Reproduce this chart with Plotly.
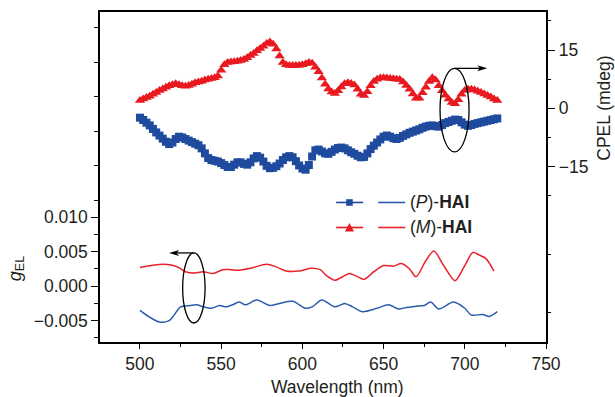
import plotly.graph_objects as go

# ---------------- data ----------------
cpel_wl = list(range(500, 722, 2))
cpel_P = [-2.4, -3.0, -3.7, -4.4, -5.3, -6.2, -7.0, -7.8, -8.6, -9.2,
          -8.8, -7.9, -7.3, -7.5, -7.9, -8.3, -8.7, -9.1, -9.5, -10.3,
          -11.6, -12.8, -13.3, -13.5, -13.7, -14.1, -14.6, -15.1, -15.1, -14.5,
          -13.9, -13.9, -14.3, -14.5, -13.9, -12.9, -12.3, -12.7, -13.7, -14.8,
          -15.4, -15.3, -14.9, -14.2, -13.3, -12.6, -12.3, -12.6, -13.6, -14.7,
          -15.5, -15.8, -14.6, -12.4, -10.8, -10.6, -11.1, -11.6, -11.7, -11.2,
          -10.6, -10.2, -10.1, -10.3, -10.8, -11.3, -11.7, -12.2, -12.6, -12.5,
          -11.6, -10.5, -9.6, -8.8, -8.0, -7.3, -7.0, -7.3, -7.7, -7.9,
          -7.6, -7.1, -6.7, -6.3, -6.0, -5.7, -5.4, -5.0, -4.7, -4.5,
          -4.4, -4.6, -4.7, -4.3, -3.8, -3.5, -3.2, -2.9, -3.0, -3.6,
          -4.2, -4.5, -4.3, -4.0, -3.8, -3.6, -3.4, -3.2, -3.0, -2.8,
          -2.6]
cpel_M = [2.0, 2.4, 2.8, 3.1, 3.6, 4.1, 4.6, 5.0, 5.4, 5.8,
          6.1, 6.3, 6.1, 5.8, 5.7, 5.9, 6.2, 6.6, 6.8, 7.0,
          7.3, 7.5, 7.7, 7.9, 8.3, 9.8, 11.2, 11.8, 11.9, 12.0,
          12.1, 12.3, 12.6, 13.0, 13.6, 14.1, 14.8, 15.4, 16.0, 16.7,
          17.1, 16.5, 15.3, 13.5, 11.8, 11.2, 11.0, 11.0, 11.0, 11.1,
          11.2, 11.5, 11.8, 11.6, 10.6, 9.4, 7.8, 6.2, 5.0, 4.2,
          3.8, 4.5, 5.5, 6.3, 6.6, 6.4, 6.0, 4.9, 3.6, 3.3,
          4.3, 5.8, 6.9, 7.5, 7.8, 7.9, 7.8, 7.7, 7.6, 7.5,
          7.4, 6.8, 5.9, 4.9, 3.7, 2.6, 2.6, 4.0, 5.4, 6.9,
          7.9, 7.3, 5.8, 4.5, 3.4, 2.4, 1.5, 1.2, 2.2, 3.6,
          4.6, 4.9, 4.9, 4.7, 4.4, 4.1, 3.7, 3.3, 2.9, 2.4,
          2.0]

gel_P_wl = [500, 506, 512, 518, 521, 525, 531, 535, 539, 544, 549, 553, 557, 561,
            565, 572, 580, 586, 594, 602, 606, 612, 620, 626, 631, 637, 646, 653,
            659, 664, 670, 675, 679, 684, 693, 700, 704, 711, 715, 720]
gel_P = [-0.0035, -0.0045, -0.0052, -0.0050, -0.0042, -0.0030, -0.0028, -0.0027,
         -0.0030, -0.0032, -0.0028, -0.0030, -0.0027, -0.0023, -0.0027, -0.0020,
         -0.0028, -0.0025, -0.0022, -0.0032, -0.0030, -0.0020, -0.0030, -0.0025,
         -0.0030, -0.0037, -0.0032, -0.0027, -0.0033, -0.0031, -0.0029, -0.0028,
         -0.0023, -0.0033, -0.0023, -0.0032, -0.0042, -0.0041, -0.0044, -0.0037]
gel_M_wl = [500, 504, 508, 514, 520, 524, 528, 533, 539, 545, 551, 556, 560, 568,
            578, 584, 590, 598, 605, 611, 615, 620, 625, 629, 633, 638, 644, 650,
            656, 661, 666, 670, 676, 681, 687, 694, 700, 705, 709, 713, 718]
gel_M = [0.0027, 0.0029, 0.00305, 0.0032, 0.00305, 0.0027, 0.0021, 0.0019,
         0.0021, 0.00184, 0.0024, 0.0024, 0.0023, 0.0026, 0.0032, 0.0028,
         0.0022, 0.0022, 0.0026, 0.0024, 0.0015, 0.00087, 0.0014, 0.00184,
         0.0015, 0.0010, 0.0021, 0.0030, 0.0029, 0.0033, 0.0025, 0.00136,
         0.0037, 0.0051, 0.0030, 0.0008, 0.0030, 0.0049, 0.0045, 0.0040, 0.0022]

x_ticks = [500, 550, 600, 650, 700, 750]
x_minor = [525, 575, 625, 675, 725]
g_major = [-0.005, 0.0, 0.005, 0.010]
g_labels = ["\u22120.005", "0.000", "0.005", "0.010"]
g_major_unlabeled = [0.015, 0.020, 0.025, 0.030, 0.035]
g_minor = [-0.0075, -0.0025, 0.0025, 0.0075, 0.0125, 0.0175, 0.0225, 0.0275, 0.0325, 0.0375]
c_major = [15, 0, -15]
c_labels = ["15", "0", "\u221215"]
c_major_unlabeled = [-30, -45]
c_minor = [22.5, 7.5, -7.5, -22.5, -37.5, -52.5]

G_RANGE = [-0.0081, 0.0398]
C_RANGE = [-60.15, 24.8]

BLUE = "#1f4b9e"
RED = "#e8191f"
BLUE_L = "#2b5bab"
RED_L = "#e8232b"
FONT = "Liberation Sans, Arial, sans-serif"
TXT = "#231f20"

# ---------------- figure ----------------
fig = go.Figure()
fig.add_trace(go.Scatter(x=cpel_wl, y=cpel_P, mode="markers", yaxis="y2",
                         marker=dict(symbol="square", size=8, color=BLUE, line=dict(width=0)),
                         showlegend=False))
fig.add_trace(go.Scatter(x=cpel_wl, y=cpel_M, mode="markers", yaxis="y2",
                         marker=dict(symbol="triangle-up", size=9, color=RED, line=dict(width=0)),
                         showlegend=False))
fig.add_trace(go.Scatter(x=gel_P_wl, y=gel_P, mode="lines", yaxis="y",
                         line=dict(color=BLUE_L, width=1.5, shape="spline", smoothing=0.8),
                         showlegend=False))
fig.add_trace(go.Scatter(x=gel_M_wl, y=gel_M, mode="lines", yaxis="y",
                         line=dict(color=RED_L, width=1.5, shape="spline", smoothing=0.8),
                         showlegend=False))

L, T, W, H = 100, 12, 445.7, 329.7
def px(x):
    return (x - L) / W
def py(y):
    return (T + H - y) / H

axis_common = dict(showline=True, linecolor="black", linewidth=1.5, ticks="outside",
                   tickcolor="black", tickwidth=1.3, showgrid=False, zeroline=False,
                   tickfont=dict(family=FONT, size=17.5, color=TXT))
minor_common = dict(tickmode="array", tickcolor="black", tickwidth=1.3, ticks="outside")

fig.update_layout(
    width=615, height=397,
    margin=dict(l=L, r=615 - L - W, t=T, b=397 - T - H, pad=0, autoexpand=False),
    plot_bgcolor="white", paper_bgcolor="white",
    xaxis=dict(range=[475.4, 750], tickmode="array", tickvals=x_ticks, ticklen=5,
               mirror=True, minor=dict(tickvals=x_minor, ticklen=3, **minor_common),
               **axis_common),
    yaxis=dict(range=G_RANGE, tickmode="array", tickvals=g_major,
               ticktext=g_labels, ticklen=7,
               minor=dict(tickvals=g_minor, ticklen=4, **minor_common),
               **axis_common),
    yaxis2=dict(range=C_RANGE, overlaying="y", side="right", anchor="x",
                tickmode="array", tickvals=c_major, ticktext=c_labels, ticklen=7.5,
                minor=dict(tickvals=c_minor, ticklen=3.5, **minor_common),
                **axis_common),
    # extra overlaid axes that only carry the unlabeled major ticks
    yaxis3=dict(range=G_RANGE, overlaying="y", side="left", anchor="x",
                tickmode="array", tickvals=g_major_unlabeled, ticklen=7, ticks="outside",
                tickcolor="black", tickwidth=1.3, showticklabels=False,
                showline=False, showgrid=False, zeroline=False),
    yaxis4=dict(range=C_RANGE, overlaying="y", side="right", anchor="x",
                tickmode="array", tickvals=c_major_unlabeled, ticklen=7.5, ticks="outside",
                tickcolor="black", tickwidth=1.3, showticklabels=False,
                showline=False, showgrid=False, zeroline=False),
)

shapes = []
annotations = []

def arrow(x_tail, x_tip, y, direction):
    shapes.append(dict(type="line", xref="paper", yref="paper",
                       x0=px(x_tail), x1=px(x_tip - direction * 6), y0=py(y), y1=py(y),
                       line=dict(color="black", width=1.3)))
    path = "M %f,%f L %f,%f L %f,%f L %f,%f Z" % (
        px(x_tip), py(y),
        px(x_tip - direction * 10), py(y - 3),
        px(x_tip - direction * 7.5), py(y),
        px(x_tip - direction * 10), py(y + 3))
    shapes.append(dict(type="path", xref="paper", yref="paper", path=path,
                       fillcolor="black", line=dict(width=0)))

# ellipses with arrows
shapes.append(dict(type="circle", xref="paper", yref="paper",
                   x0=px(439.8), x1=px(468.8), y0=py(151.7), y1=py(68.3),
                   line=dict(color="black", width=1.3)))
shapes.append(dict(type="circle", xref="paper", yref="paper",
                   x0=px(182.6), x1=px(205.0), y0=py(322.7), y1=py(252.7),
                   line=dict(color="black", width=1.3)))
arrow(454.3, 487.0, 68.3, 1)
arrow(193.5, 169.0, 252.7, -1)

# legend
for yy, col, coll, lab, sym in [(202.3, BLUE, BLUE_L, "(<i>P</i>)-<b>HAI</b>", "sq"),
                                (227.3, RED, RED_L, "(<i>M</i>)-<b>HAI</b>", "tri")]:
    shapes.append(dict(type="line", xref="paper", yref="paper", x0=px(336), x1=px(363),
                       y0=py(yy), y1=py(yy), line=dict(color=col, width=1.6)))
    shapes.append(dict(type="line", xref="paper", yref="paper", x0=px(378), x1=px(405),
                       y0=py(yy), y1=py(yy), line=dict(color=coll, width=1.6)))
    if sym == "sq":
        shapes.append(dict(type="rect", xref="paper", yref="paper",
                           x0=px(346), x1=px(352.6), y0=py(yy + 3.3), y1=py(yy - 3.3),
                           fillcolor=col, line=dict(width=0)))
    else:
        path = "M %f,%f L %f,%f L %f,%f Z" % (px(344.8), py(yy + 4), px(353.8), py(yy + 4),
                                              px(349.3), py(yy - 4.5))
        shapes.append(dict(type="path", xref="paper", yref="paper", path=path,
                           fillcolor=col, line=dict(width=0)))
    annotations.append(dict(xref="paper", yref="paper", x=px(408), y=py(yy), text=lab,
                            showarrow=False, xanchor="left", yanchor="middle",
                            font=dict(family=FONT, size=17.5, color=TXT)))

# axis titles
annotations.append(dict(xref="paper", yref="paper", x=px(337), y=py(386.5),
                        text="Wavelength (nm)", showarrow=False, xanchor="center",
                        yanchor="middle", font=dict(family=FONT, size=17.5, color=TXT)))
annotations.append(dict(xref="paper", yref="paper", x=px(604), y=py(108.3),
                        text="CPEL (mdeg)", showarrow=False, textangle=-90,
                        xanchor="center", yanchor="middle",
                        font=dict(family=FONT, size=17.5, color=TXT)))
annotations.append(dict(xref="paper", yref="paper", x=px(16), y=py(268),
                        text="<i>g</i><sub>EL</sub>", showarrow=False, textangle=-90,
                        xanchor="center", yanchor="middle",
                        font=dict(family=FONT, size=18, color=TXT)))

fig.update_layout(shapes=shapes, annotations=annotations)
fig.write_html("out.html", config={"displayModeBar": False},
               post_script="document.body.style.margin='0';document.body.style.padding='0';")
